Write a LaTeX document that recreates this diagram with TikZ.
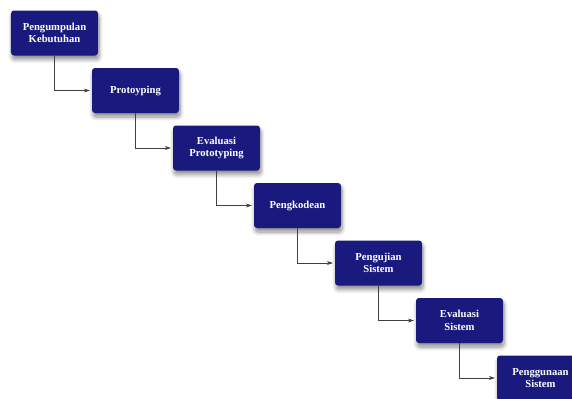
\documentclass[tikz,border=0pt]{standalone}
\usepackage{fontspec}
\setmainfont{Liberation Serif}
\usetikzlibrary{shadows.blur,arrows.meta}
\definecolor{boxblue}{RGB}{26,26,126}
\tikzset{
  stage/.style={draw=none, fill=boxblue, rounded corners=3bp, minimum width=87bp, minimum height=45bp,
    text=white, font=\fontsize{10.7}{12.5}\selectfont\bfseries, align=center, inner sep=0pt,
    blur shadow={shadow xshift=1bp, shadow yshift=-4bp, shadow blur radius=4bp, shadow blur steps=8, shadow opacity=45}},
  link/.style={draw=black!75, line width=0.6bp, shorten >=2bp, -{Stealth[length=6bp,width=4bp]}}
}
\begin{document}
\begin{tikzpicture}[x=1bp,y=-1bp]
\useasboundingbox (0,0) rectangle (572,398);
\clip (0,0) rectangle (572,398);
\node[stage] (s1) at (54.5,33) {Pengumpulan\\Kebutuhan};
\node[stage] (s2) at (135.5,90.5) {Protoyping};
\node[stage] (s3) at (216.5,148) {Evaluasi\\Prototyping};
\node[stage] (s4) at (297.5,205.5) {Pengkodean};
\node[stage] (s5) at (378.5,263) {Pengujian\\Sistem};
\node[stage] (s6) at (459.5,320.5) {Evaluasi\\Sistem};
\node[stage] (s7) at (540.5,378) {Penggunaan\\Sistem};
\draw[link] (s1.south) |- (s2.west);
\draw[link] (s2.south) |- (s3.west);
\draw[link] (s3.south) |- (s4.west);
\draw[link] (s4.south) |- (s5.west);
\draw[link] (s5.south) |- (s6.west);
\draw[link] (s6.south) |- (s7.west);
\end{tikzpicture}
\end{document}
